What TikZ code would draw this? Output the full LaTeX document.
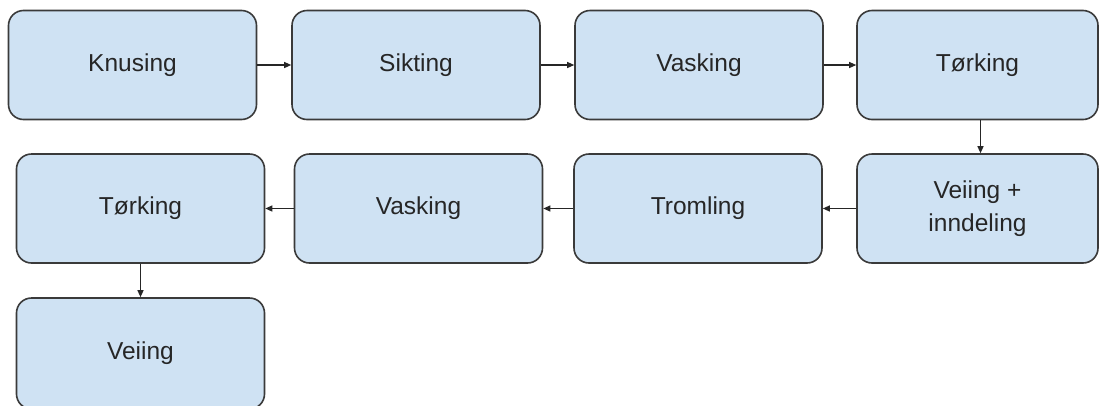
\documentclass[tikz,border=0pt]{standalone}
\usepackage{fontspec}
\setmainfont{Liberation Sans}
\usetikzlibrary{arrows.meta}
\definecolor{boxfill}{HTML}{CFE2F3}
\definecolor{boxline}{HTML}{3A3A3A}
\definecolor{txt}{HTML}{262626}
\begin{document}
\begin{tikzpicture}[x=1pt,y=-1pt,
  stepbox/.style={draw=boxline, fill=boxfill, line width=1.6pt, rounded corners=15pt,
    minimum width=248pt, minimum height=109pt, inner sep=0pt, align=center,
    text=txt, font=\fontsize{24.5}{33}\selectfont},
  conn/.style={draw=black!85, line width=1.1pt, -{Triangle[length=7pt,width=6pt]}}]
\clip (0,0) rectangle (1099,405);
\fill[white] (0,0) rectangle (1099,405);
\node[stepbox] (knusing) at (132.5,65) {Knusing};
\node[stepbox] (sikting) at (416,65) {Sikting};
\node[stepbox] (vasking1) at (699,65) {Vasking};
\node[stepbox, minimum width=241pt] (torking1) at (977.5,65) {Tørking};
\node[stepbox, minimum width=241pt] (veiinginn) at (977.5,208.5) {Veiing +\\inndeling};
\node[stepbox] (tromling) at (698,208.5) {Tromling};
\node[stepbox] (vasking2) at (418.5,208.5) {Vasking};
\node[stepbox] (torking2) at (140.5,208.5) {Tørking};
\node[stepbox, minimum height=111pt] (veiing) at (140.5,353.5) {Veiing};
\draw[conn] (knusing) -- (sikting);
\draw[conn] (sikting) -- (vasking1);
\draw[conn] (vasking1) -- (torking1);
\draw[conn] (torking1.south) ++(3,0) coordinate (t1s) -- (t1s |- veiinginn.north);
\draw[conn] (veiinginn) -- (tromling);
\draw[conn] (tromling) -- (vasking2);
\draw[conn] (vasking2) -- (torking2);
\draw[conn] (torking2) -- (veiing);
\end{tikzpicture}
\end{document}
